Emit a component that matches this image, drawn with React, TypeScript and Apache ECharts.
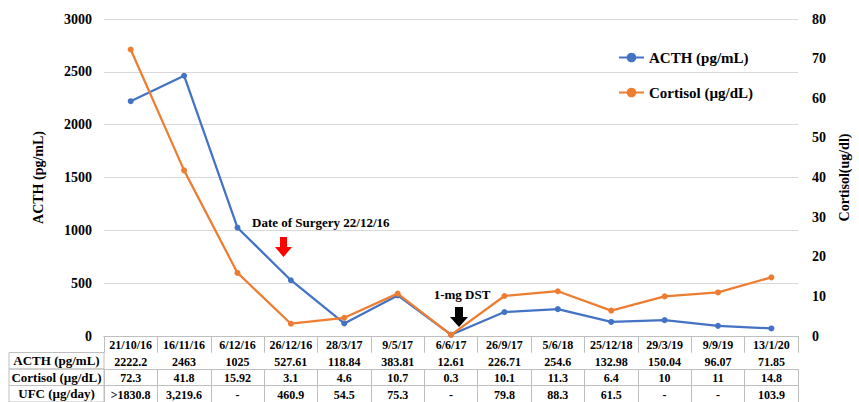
import React, { useEffect, useRef } from "react";
import * as echarts from "echarts";

const dates = ["21/10/16", "16/11/16", "6/12/16", "26/12/16", "28/3/17", "9/5/17", "6/6/17", "26/9/17", "5/6/18", "25/12/18", "29/3/19", "9/9/19", "13/1/20"];
const acth = [2222.2, 2463, 1025, 527.61, 118.84, 383.81, 12.61, 226.71, 254.6, 132.98, 150.04, 96.07, 71.85];
const cortisol = [72.3, 41.8, 15.92, 3.1, 4.6, 10.7, 0.3, 10.1, 11.3, 6.4, 10, 11, 14.8];
const acthText = ["2222.2", "2463", "1025", "527.61", "118.84", "383.81", "12.61", "226.71", "254.6", "132.98", "150.04", "96.07", "71.85"];
const cortisolText = ["72.3", "41.8", "15.92", "3.1", "4.6", "10.7", "0.3", "10.1", "11.3", "6.4", "10", "11", "14.8"];
const ufcText = [">1830.8", "3,219.6", "-", "460.9", "54.5", "75.3", "-", "79.8", "88.3", "61.5", "-", "-", "103.9"];
const rowHeaders = ["ACTH (pg/mL)", "Cortisol (µg/dL)", "UFC (µg/day)"];
const leftTicks = { min: 0, max: 3000, interval: 500 };
const rightTicks = { min: 0, max: 80, interval: 10 };

const FONT = "Liberation Serif";
const BLUE = "#4472C4";
const ORANGE = "#ED7D31";
const BORDER = "#bfbfbf";

const GRID_LEFT = 104;
const GRID_RIGHT_PX = 813;
const GRID_TOP = 19;
const GRID_BOTTOM_PX = 336;
const ROW_H = 16.5;

export default function App() {
  const ref = useRef<HTMLDivElement>(null);
  useEffect(() => {
    if (!ref.current) return;
    const chart = echarts.init(ref.current, null, { renderer: "svg" });

    const tableRows = [dates, acthText, cortisolText, ufcText];
    const xAxes = tableRows.map((row, i) => ({
      type: "category",
      data: row,
      position: "bottom",
      offset: i * ROW_H,
      boundaryGap: true,
      axisLine: { show: true, lineStyle: { color: BORDER, width: 1 } },
      axisTick: { show: true, interval: 0, length: ROW_H, lineStyle: { color: BORDER } },
      axisLabel: {
        interval: 0,
        margin: 3,
        color: "#000",
        fontFamily: FONT,
        fontWeight: "bold",
        fontSize: 12,
      },
      splitLine: { show: false },
    }));

    const graphics: any[] = [];
    rowHeaders.forEach((h, i) => {
      const y = GRID_BOTTOM_PX + ROW_H * (i + 1);
      graphics.push({
        type: "rect",
        shape: { x: 9, y, width: GRID_LEFT - 9, height: ROW_H },
        style: { fill: "none", stroke: BORDER, lineWidth: 1 },
        silent: true,
      });
      graphics.push({
        type: "text",
        x: (9 + GRID_LEFT) / 2,
        y: y + ROW_H / 2,
        style: {
          text: h,
          fontFamily: FONT,
          fontWeight: "bold",
          fontSize: 13,
          fill: "#000",
          align: "center",
          verticalAlign: "middle",
        },
      });
    });
    // annotations
    graphics.push({
      type: "text",
      x: 252,
      y: 222,
      style: { text: "Date of Surgery 22/12/16", fontFamily: FONT, fontWeight: "bold", fontSize: 13, fill: "#000", verticalAlign: "middle" },
    });
    graphics.push({
      type: "polygon",
      shape: { points: [[280, 237], [287, 237], [287, 247], [292, 247], [283.5, 257], [275, 247], [280, 247]] },
      style: { fill: "#FF0000" },
    });
    graphics.push({
      type: "text",
      x: 462,
      y: 294,
      style: { text: "1-mg DST", fontFamily: FONT, fontWeight: "bold", fontSize: 13, fill: "#000", align: "center", verticalAlign: "middle" },
    });
    graphics.push({
      type: "polygon",
      shape: { points: [[455, 307], [463, 307], [463, 317], [468, 317], [459, 327], [450, 317], [455, 317]] },
      style: { fill: "#000" },
    });

    chart.setOption({
      animation: false,
      textStyle: { fontFamily: FONT },
      grid: {
        left: GRID_LEFT,
        right: 859 - GRID_RIGHT_PX,
        top: GRID_TOP,
        bottom: 402 - GRID_BOTTOM_PX,
        containLabel: false,
      },
      legend: {
        orient: "vertical",
        left: 613,
        top: 45,
        itemGap: 20,
        itemWidth: 25,
        itemHeight: 12,
        textStyle: { fontFamily: FONT, fontWeight: "bold", fontSize: 15, color: "#000" },
        data: ["ACTH (pg/mL)", "Cortisol (µg/dL)"],
      },
      xAxis: xAxes,
      yAxis: [
        {
          type: "value",
          min: leftTicks.min,
          max: leftTicks.max,
          interval: leftTicks.interval,
          name: "ACTH (pg/mL)",
          nameLocation: "middle",
          nameGap: 59,
          nameRotate: 90,
          nameTextStyle: { fontFamily: FONT, fontWeight: "bold", fontSize: 14, color: "#000" },
          axisLine: { show: false },
          axisTick: { show: false },
          axisLabel: { margin: 12, fontFamily: FONT, fontWeight: "bold", fontSize: 14, color: "#000", formatter: (v: number) => String(v) },
          splitLine: { show: true, lineStyle: { color: "#d9d9d9", width: 1 } },
        },
        {
          type: "value",
          position: "right",
          min: rightTicks.min,
          max: rightTicks.max,
          interval: rightTicks.interval,
          name: "Cortisol(ug/dl)",
          nameLocation: "middle",
          nameGap: 38,
          nameRotate: 90,
          nameTextStyle: { fontFamily: FONT, fontWeight: "bold", fontSize: 14, color: "#000" },
          axisLine: { show: false },
          axisTick: { show: false },
          axisLabel: { margin: 14, fontFamily: FONT, fontWeight: "bold", fontSize: 14, color: "#000", formatter: (v: number) => String(v) },
          splitLine: { show: false },
        },
      ],
      series: [
        {
          name: "ACTH (pg/mL)",
          type: "line",
          xAxisIndex: 0,
          yAxisIndex: 0,
          data: acth,
          symbol: "circle",
          symbolSize: 6,
          lineStyle: { color: BLUE, width: 2.25 },
          itemStyle: { color: BLUE },
          z: 3,
        },
        {
          name: "Cortisol (µg/dL)",
          type: "line",
          xAxisIndex: 0,
          yAxisIndex: 1,
          data: cortisol,
          symbol: "circle",
          symbolSize: 6,
          lineStyle: { color: ORANGE, width: 2.25 },
          itemStyle: { color: ORANGE },
          z: 4,
        },
      ],
      graphic: graphics,
    });
    return () => chart.dispose();
  }, []);
  return (
    <div
      ref={ref}
      style={{ position: "absolute", left: 0, top: 0, width: 859, height: 402, background: "#fff" }}
    />
  );
}
